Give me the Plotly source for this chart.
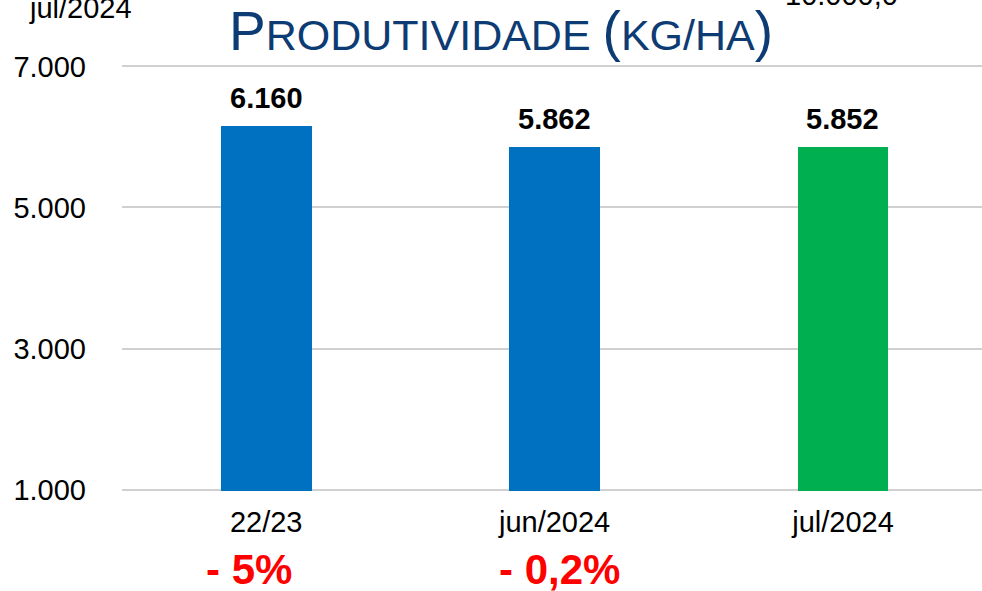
import plotly.graph_objects as go

categories = ["22/23", "jun/2024", "jul/2024"]
values = [6160, 5862, 5852]
value_labels = ["6.160", "5.862", "5.852"]
bar_colors = ["#0070C0", "#0070C0", "#00B050"]
change_labels = ["- 5%", "- 0,2%"]
tick_vals = [1000, 3000, 5000, 7000]
tick_text = ["1.000", "3.000", "5.000", "7.000"]

FONT = "Liberation Sans, Arial, sans-serif"

fig = go.Figure()
fig.add_trace(go.Bar(
    x=list(range(len(categories))), y=values,
    marker=dict(color=bar_colors, line=dict(width=0)),
    width=0.315, hoverinfo="skip",
))

annotations = []
for i, (v, lab) in enumerate(zip(values, value_labels)):
    annotations.append(dict(x=i, y=v, xref="x", yref="y", text="<b>%s</b>" % lab,
                            showarrow=False, yanchor="bottom", yshift=10,
                            font=dict(family=FONT, size=29, color="#000000")))
change_shifts = [-17, 5]
for i, (lab, sh) in enumerate(zip(change_labels, change_shifts)):
    annotations.append(dict(x=i, y=-0.185, xref="x", yref="paper", text="<b>%s</b>" % lab,
                            showarrow=False, yanchor="middle", xshift=sh,
                            font=dict(family=FONT, size=42, color="#FF0000")))
# title (small caps style)
annotations.append(dict(
    x=0.4407, y=1.0024, xref="paper", yref="paper", yanchor="bottom", xanchor="center",
    showarrow=False,
    text=("<span style='font-size:55px'>P</span>RODUTIVIDADE "
          "<span style='font-size:55px'>(</span>KG/HA<span style='font-size:55px'>)</span>"),
    font=dict(family=FONT, size=43, color="#0D3B73")))
# clipped leftovers at the top
annotations.append(dict(x=(80 - 122) / 860, y=1.134, xref="paper", yref="paper", showarrow=False,
                        text="jul/2024", yanchor="middle", xanchor="center",
                        font=dict(family=FONT, size=29, color="#000000")))
annotations.append(dict(x=(841 - 122) / 860, y=1.164, xref="paper", yref="paper", showarrow=False,
                        text="10.000,0", yanchor="middle", xanchor="center",
                        font=dict(family=FONT, size=29, color="#000000")))

fig.update_layout(
    width=982, height=591,
    margin=dict(l=122, r=0, t=65, b=100),
    paper_bgcolor="white", plot_bgcolor="white",
    showlegend=False,
    annotations=annotations,
    bargap=0,
)
fig.update_xaxes(
    range=[-0.5, 2.482], tickmode="array", tickvals=list(range(len(categories))),
    ticktext=categories, showgrid=False, zeroline=False, showline=False,
    ticks="", ticklabelstandoff=11,
    tickfont=dict(family=FONT, size=29, color="#000000"),
)
fig.update_yaxes(
    range=[980, 7020], tickmode="array", tickvals=tick_vals, ticktext=tick_text,
    showgrid=True, gridcolor="#D0D0D0", gridwidth=1.5, zeroline=False, showline=False,
    ticks="", ticklabelstandoff=35,
    tickfont=dict(family=FONT, size=29, color="#000000"),
)

fig.write_html("out.html", config={"displayModeBar": False},
               post_script="document.body.style.margin='0';document.body.style.overflow='hidden';")
